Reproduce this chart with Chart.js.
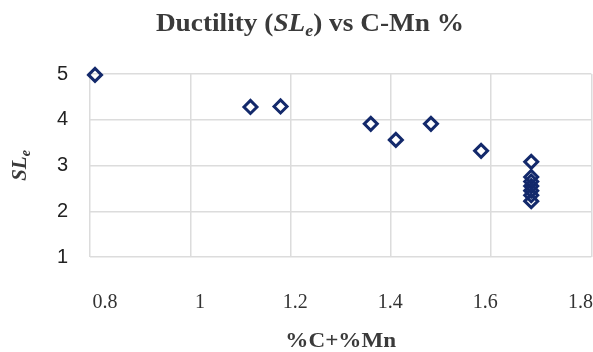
<!DOCTYPE html>
<html>
<head>
<meta charset="utf-8">
<script src="https://cdn.jsdelivr.net/npm/chart.js@4.4.0/dist/chart.umd.min.js"></script>
<style>
  html, body { margin: 0; padding: 0; background: #fff; }
  #wrap { width: 593px; height: 352px; }
</style>
</head>
<body>
<div id="wrap"><canvas id="chart" width="593" height="352"></canvas></div>
<script>
// %C+%Mn vs SLe
const cmn = [0.81, 1.12, 1.18, 1.36, 1.41, 1.48, 1.58, 1.68, 1.68, 1.68, 1.68, 1.68, 1.68, 1.68];
const sle = [4.98, 4.28, 4.29, 3.91, 3.56, 3.91, 3.32, 3.08, 2.75, 2.65, 2.55, 2.45, 2.35, 2.22];
const xTicks = [0.8, 1, 1.2, 1.4, 1.6, 1.8];
const yTicks = [1, 2, 3, 4, 5];

const navy = '#13296b';
const gridColor = '#dcdcdc';
const serif = '"Liberation Serif", "Times New Roman", serif';

const points = cmn.map((x, i) => ({ x: x, y: sle[i] }));

// titles with subscripts drawn by hand
const titles = {
  id: 'titles',
  afterDraw(chart) {
    const ctx = chart.ctx;
    const area = chart.chartArea;
    ctx.save();
    ctx.fillStyle = '#3a3a3a';
    ctx.textBaseline = 'alphabetic';
    ctx.textAlign = 'left';

    function runs(parts) {
      let w = 0;
      parts.forEach(p => { ctx.font = p.font; w += ctx.measureText(p.t).width; });
      return w;
    }
    function drawRuns(parts, x, y) {
      let cx = x;
      parts.forEach(p => {
        ctx.font = p.font;
        ctx.fillText(p.t, cx, y + (p.dy || 0));
        cx += ctx.measureText(p.t).width;
      });
    }

    // main title, a bit wider than the font as in the picture
    const t = [
      { t: 'Ductility (', font: 'bold 26px ' + serif },
      { t: 'SL', font: 'italic bold 26px ' + serif },
      { t: 'e', font: 'italic bold 17px ' + serif, dy: 5 },
      { t: ') vs C-Mn %', font: 'bold 26px ' + serif }
    ];
    ctx.save();
    ctx.translate(310, 31);
    ctx.scale(1.05, 1);
    drawRuns(t, -runs(t) / 2, 0);
    ctx.restore();

    // y axis title
    const yt = [
      { t: 'SL', font: 'italic bold 21px ' + serif },
      { t: 'e', font: 'italic bold 14px ' + serif, dy: 4 }
    ];
    ctx.save();
    ctx.translate(26, (area.top + area.bottom) / 2);
    ctx.rotate(-Math.PI / 2);
    drawRuns(yt, -runs(yt) / 2, 0);
    ctx.restore();

    // x axis title
    ctx.save();
    ctx.font = 'bold 21px ' + serif;
    ctx.textAlign = 'center';
    ctx.translate((area.left + area.right) / 2, 347);
    ctx.scale(1.1, 1);
    ctx.fillText('%C+%Mn', 0, 0);
    ctx.restore();
    ctx.restore();
  }
};

new Chart(document.getElementById('chart'), {
  type: 'scatter',
  data: {
    datasets: [{
      data: points,
      pointStyle: 'rectRot',
      pointRadius: 6.5,
      pointHoverRadius: 6.5,
      pointBorderWidth: 3,
      borderColor: navy,
      backgroundColor: 'rgba(0,0,0,0)',
      clip: false
    }]
  },
  plugins: [titles],
  options: {
    responsive: false,
    animation: false,
    layout: { autoPadding: false, padding: { top: 74, right: 1, bottom: 0, left: 0 } },
    plugins: { legend: { display: false }, tooltip: { enabled: false } },
    scales: {
      x: {
        type: 'linear',
        min: xTicks[0],
        max: xTicks[xTicks.length - 1],
        afterBuildTicks: axis => { axis.ticks = xTicks.map(v => ({ value: v })); },
        ticks: { display: false, padding: 0 },
        grid: { color: gridColor, lineWidth: 1.5, drawTicks: false },
        border: { display: false },
        afterFit: axis => { axis.height = 0; }
      },
      // labels of the picture sit a little off the grid lines
      xl: {
        type: 'linear',
        position: 'bottom',
        min: 0.7685,
        max: 1.823,
        afterBuildTicks: axis => { axis.ticks = xTicks.map(v => ({ value: v })); },
        ticks: {
          padding: 0,
          color: '#333',
          // tall line box pushes the labels down below the plot
          font: { family: serif, size: 20, lineHeight: '92px' },
          callback: v => String(Math.round(v * 10) / 10)
        },
        grid: { display: false, drawTicks: false },
        border: { display: false },
        afterFit: axis => { axis.height = 95; }
      },
      y: {
        min: yTicks[0],
        max: yTicks[yTicks.length - 1],
        afterBuildTicks: axis => { axis.ticks = yTicks.map(v => ({ value: v })); },
        ticks: {
          padding: 22,
          color: '#222',
          font: { family: '"Liberation Sans", Arial, sans-serif', size: 20 }
        },
        grid: { color: gridColor, lineWidth: 1.5, drawTicks: false },
        border: { display: false },
        afterFit: axis => { axis.width = 90; }
      }
    }
  }
});
</script>
</body>
</html>
